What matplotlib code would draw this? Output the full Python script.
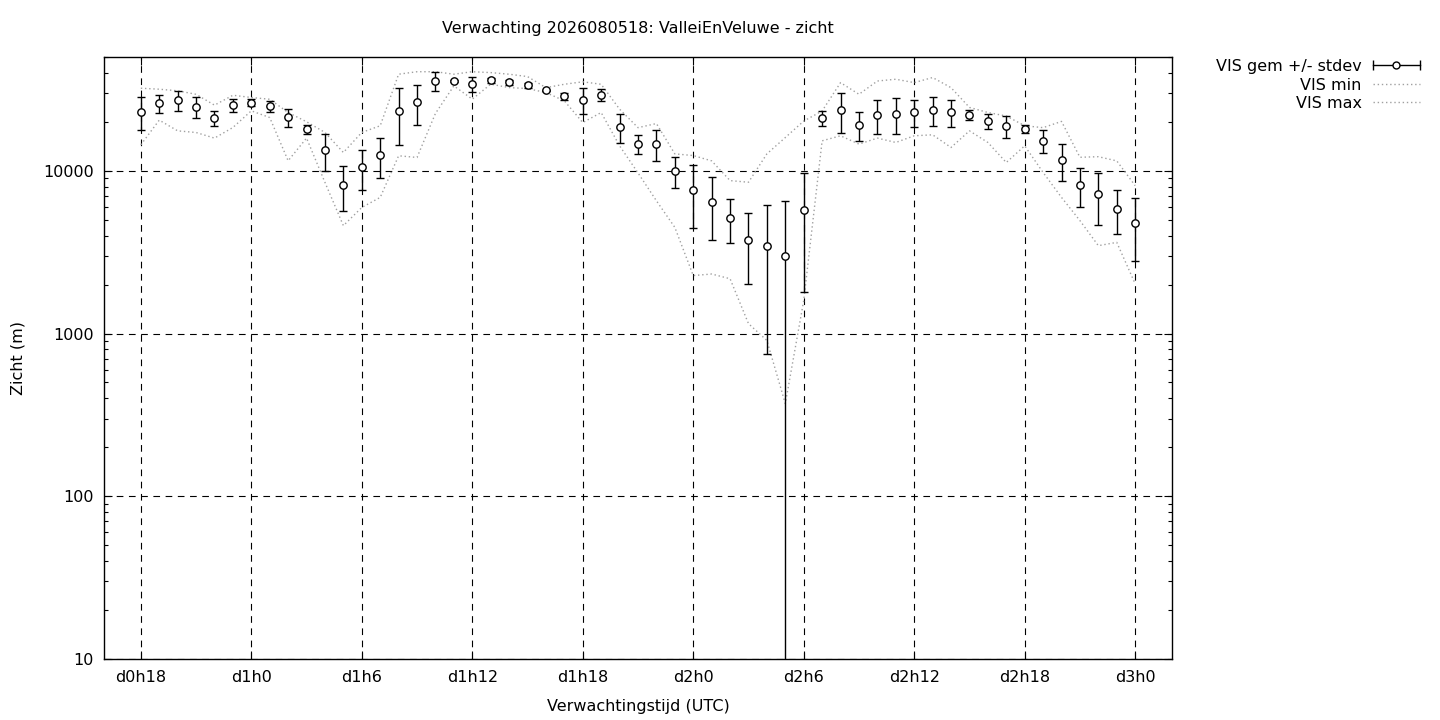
import matplotlib
matplotlib.use("Agg")
import matplotlib.pyplot as plt
from matplotlib.legend_handler import HandlerBase
from matplotlib.lines import Line2D
from matplotlib.ticker import LogLocator, NullFormatter, NullLocator

# ---------------- data ----------------
hours = list(range(18, 73))

vis_mean = [23000, 26000, 27150, 24700, 21050, 25300, 26240, 24950, 21350, 18030,
            13400, 8170, 10530, 12480, 23240, 26400, 35650, 35650, 34040, 35980,
            35000, 33550, 31270, 28720, 27150, 29250, 18550, 14640, 14640, 10000,
            7620, 6430, 5150, 3770, 3450, 3000, 5740, 21140, 23570, 19150,
            22060, 22380, 23000, 23670, 23000, 22060, 20260, 18880, 18110, 15280,
            11630, 8200, 7190, 5820, 4800]

vis_sd = [5300, 3300, 3850, 3640, 2200, 2300, 1250, 1900, 2700, 1100,
          3500, 2500, 2870, 3420, 8800, 7300, 4700, 300, 3500, 1200,
          1300, 1300, 250, 1500, 4900, 2600, 3750, 2000, 3150, 2200,
          3200, 2700, 1570, 1750, 2700, 3520, 3950, 2200, 6600, 3900,
          5300, 5500, 4400, 4700, 4300, 1500, 2100, 2900, 1000, 2500,
          2950, 2250, 2550, 1750, 2000]

vis_min = [14440, 20470, 17590, 17180, 15870, 18440, 23350, 21230, 11520, 15870,
           8480, 4600, 5950, 6860, 12360, 12070, 22500, 33230, 27540, 34040,
           32440, 31990, 30230, 26890, 19780, 22790, 14230, 9700, 6540, 4490,
           2270, 2320, 2170, 1150, 906, 371, 1594, 15280, 16400, 14580,
           15870, 14920, 16400, 16630, 13900, 17590, 14920, 11240, 14230, 9760,
           6860, 4940, 3465, 3630, 2020]

vis_max = [32150, 31700, 31000, 29500, 25300, 29100, 28200, 27500, 22800, 20000,
           17200, 12950, 17200, 18900, 39200, 40600, 40600, 39200, 40600, 40100,
           39200, 37900, 32400, 34000, 35200, 34000, 23900, 18400, 19500, 12700,
           12400, 11500, 8700, 8500, 12700, 16000, 20200, 23300, 34800, 29500,
           35600, 36500, 34800, 37400, 32400, 24500, 22800, 21700, 18900, 18400,
           20100, 12100, 12200, 11500, 8100]

x_ticks = [18, 24, 30, 36, 42, 48, 54, 60, 66, 72]
x_ticklabels = ["d0h18", "d1h0", "d1h6", "d1h12", "d1h18", "d2h0",
                "d2h6", "d2h12", "d2h18", "d3h0"]
y_ticks = [10, 100, 1000, 10000]
y_ticklabels = ["10", "100", "1000", "10000"]

title = "Verwachting 2026080518: ValleiEnVeluwe - zicht"
xlabel = "Verwachtingstijd (UTC)"
ylabel = "Zicht (m)"
labels = ["VIS gem +/- stdev", "VIS min", "VIS max"]

# ---------------- figure ----------------
plt.rcParams["font.family"] = ["DejaVu Sans"]
FS = 11.5
W, H = 1440, 720
fig = plt.figure(figsize=(W / 100, H / 100), dpi=100)
L, R, T, B = 104, 1172, 57, 659
ax = fig.add_axes([L / W, 1 - B / H, (R - L) / W, (B - T) / H])

ax.set_yscale("log")
ax.set_xlim(16, 74)
ax.set_ylim(10, 50000)

grey = "#a0a0a0"
ax.errorbar(hours, vis_mean, yerr=vis_sd, fmt="o", color="black",
            ecolor="black", elinewidth=1.0, capsize=3, capthick=1.0,
            markersize=5.3, markerfacecolor="white", markeredgecolor="black",
            markeredgewidth=1.0, zorder=3)
ax.plot(hours, vis_min, color=grey, lw=1.0, ls=(0, (1, 2)), zorder=2)
ax.plot(hours, vis_max, color=grey, lw=1.0, ls=(0, (1, 2)), zorder=2)

# ticks & grid
ax.set_xticks(x_ticks)
ax.set_xticklabels(x_ticklabels)
ax.xaxis.set_minor_locator(NullLocator())
ax.set_yticks(y_ticks)
ax.set_yticklabels(y_ticklabels)
ax.yaxis.set_minor_locator(LogLocator(base=10, subs=range(2, 10), numticks=20))
ax.yaxis.set_minor_formatter(NullFormatter())
ax.tick_params(which="both", direction="in", top=True, right=True,
               labelsize=FS, width=0.8, colors="black")
ax.tick_params(which="major", length=6)
ax.tick_params(which="minor", length=3)
ax.tick_params(axis="x", pad=8)
ax.tick_params(axis="y", pad=7.5)
ax.grid(True, which="major", color="black", lw=0.8, ls=(0, (6, 5)))
ax.set_axisbelow(True)
for s in ax.spines.values():
    s.set_linewidth(1.0)

fig.text(638 / W, 1 - 29 / H, title, ha="center", va="center", fontsize=FS)
fig.text(638 / W, 1 - 706 / H, xlabel, ha="center", va="center", fontsize=FS)
fig.text(18 / W, 1 - 358 / H, ylabel, ha="center", va="center",
         rotation=90, fontsize=FS)


class HErr(HandlerBase):
    def create_artists(self, legend, orig_handle, xdescent, ydescent,
                       width, height, fontsize, trans):
        y = height / 2 - ydescent
        x0, x1 = -xdescent, width - xdescent
        line = Line2D([x0, x1], [y, y], color="black", lw=1.0)
        caps = Line2D([x0, x1], [y, y], ls="none", marker="|",
                      markersize=7, markeredgewidth=1.0, color="black")
        mk = Line2D([(x0 + x1) / 2], [y], ls="none", marker="o",
                    markersize=5, markerfacecolor="white",
                    markeredgecolor="black", markeredgewidth=1.0)
        for a in (line, caps, mk):
            a.set_transform(trans)
        return [line, caps, mk]


proxy = Line2D([], [], color="black")
hmin = Line2D([], [], color=grey, lw=1.0, ls=(0, (1, 2)))
hmax = Line2D([], [], color=grey, lw=1.0, ls=(0, (1, 2)))
fig.legend([proxy, hmin, hmax], labels, handler_map={proxy: HErr()},
           loc="upper right", bbox_to_anchor=(1428 / W, 1 - 51 / H),
           bbox_transform=fig.transFigure, frameon=False, borderpad=0,
           markerfirst=False, fontsize=FS, handlelength=2.95,
           handletextpad=0.7, labelspacing=0.22)

fig.savefig("out.png", dpi=100)
